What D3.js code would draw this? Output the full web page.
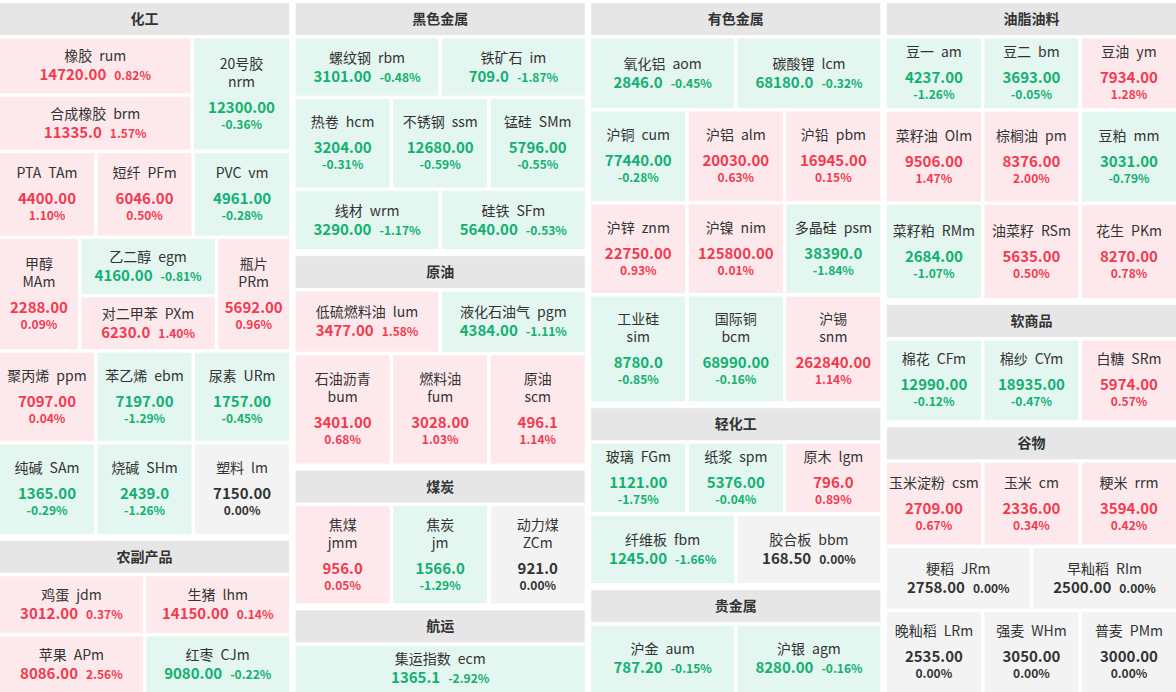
<!DOCTYPE html>
<html><head><meta charset="utf-8">
<script src="https://cdn.jsdelivr.net/npm/d3@7"></script>
<style>body{margin:0;background:#fff;font-family:"Noto Sans CJK SC","Noto Sans",sans-serif}</style>
</head><body><div id="chart"></div>
<script>
// quotes: [name, code, price, pct]
const huagong = [["橡胶","rum","14720.00",0.82],["合成橡胶","brm","11335.0",1.57],["20号胶","nrm","12300.00",-0.36],
  ["PTA","TAm","4400.00",1.10],["短纤","PFm","6046.00",0.50],["PVC","vm","4961.00",-0.28],
  ["甲醇","MAm","2288.00",0.09],["乙二醇","egm","4160.00",-0.81],["对二甲苯","PXm","6230.0",1.40],["瓶片","PRm","5692.00",0.96],
  ["聚丙烯","ppm","7097.00",0.04],["苯乙烯","ebm","7197.00",-1.29],["尿素","URm","1757.00",-0.45],
  ["纯碱","SAm","1365.00",-0.29],["烧碱","SHm","2439.0",-1.26],["塑料","lm","7150.00",0.00]];
const nongfu = [["鸡蛋","jdm","3012.00",0.37],["生猪","lhm","14150.00",0.14],["苹果","APm","8086.00",2.56],["红枣","CJm","9080.00",-0.22]];
const heise = [["螺纹钢","rbm","3101.00",-0.48],["铁矿石","im","709.0",-1.87],["热卷","hcm","3204.00",-0.31],["不锈钢","ssm","12680.00",-0.59],
  ["锰硅","SMm","5796.00",-0.55],["线材","wrm","3290.00",-1.17],["硅铁","SFm","5640.00",-0.53]];
const yuanyou = [["低硫燃料油","lum","3477.00",1.58],["液化石油气","pgm","4384.00",-1.11],["石油沥青","bum","3401.00",0.68],["燃料油","fum","3028.00",1.03],["原油","scm","496.1",1.14]];
const meitan = [["焦煤","jmm","956.0",0.05],["焦炭","jm","1566.0",-1.29],["动力煤","ZCm","921.0",0.00]];
const hangyun = [["集运指数","ecm","1365.1",-2.92]];
const youse = [["氧化铝","aom","2846.0",-0.45],["碳酸锂","lcm","68180.0",-0.32],["沪铜","cum","77440.00",-0.28],["沪铝","alm","20030.00",0.63],
  ["沪铅","pbm","16945.00",0.15],["沪锌","znm","22750.00",0.93],["沪镍","nim","125800.00",0.01],["多晶硅","psm","38390.0",-1.84],
  ["工业硅","sim","8780.0",-0.85],["国际铜","bcm","68990.00",-0.16],["沪锡","snm","262840.00",1.14]];
const qinghua = [["玻璃","FGm","1121.00",-1.75],["纸浆","spm","5376.00",-0.04],["原木","lgm","796.0",0.89],["纤维板","fbm","1245.00",-1.66],["胶合板","bbm","168.50",0.00]];
const guijinshu = [["沪金","aum","787.20",-0.15],["沪银","agm","8280.00",-0.16]];
const youzhi = [["豆一","am","4237.00",-1.26],["豆二","bm","3693.00",-0.05],["豆油","ym","7934.00",1.28],["菜籽油","OIm","9506.00",1.47],
  ["棕榈油","pm","8376.00",2.00],["豆粕","mm","3031.00",-0.79],["菜籽粕","RMm","2684.00",-1.07],["油菜籽","RSm","5635.00",0.50],["花生","PKm","8270.00",0.78]];
const ruanshang = [["棉花","CFm","12990.00",-0.12],["棉纱","CYm","18935.00",-0.47],["白糖","SRm","5974.00",0.57]];
const guwu = [["玉米淀粉","csm","2709.00",0.67],["玉米","cm","2336.00",0.34],["粳米","rrm","3594.00",0.42],["粳稻","JRm","2758.00",0.00],
  ["早籼稻","RIm","2500.00",0.00],["晚籼稻","LRm","2535.00",0.00],["强麦","WHm","3050.00",0.00],["普麦","PMm","3000.00",0.00]];

// tile weights: rows [rowWeight, cells], a cell is a weight or [weight, [stack weights]]
const columns = [
  [["化工", huagong, [[112,[[2,[57,55]],1]],[83,[1,1,1]],[111,[[77],[132,[57,54]],[70]]],[89,[1,1,1]],[90,[1,1,1]]]],
   ["农副产品", nongfu, [[57,[1,1]],[56,[1,1]]]]],
  [["黑色金属", heise, [[57,[1,1]],[88,[1,1,1]],[58,[1,1]]]],
   ["原油", yuanyou, [[60,[1,1]],[108,[1,1,1]]]],
   ["煤炭", meitan, [[97,[1,1,1]]]],
   ["航运", hangyun, [[46,[1]]]]],
  [["有色金属", youse, [[69,[1,1]],[89,[1,1,1]],[88,[1,1,1]],[104,[1,1,1]]]],
   ["轻化工", qinghua, [[68,[1,1,1]],[67,[1,1]]]],
   ["贵金属", guijinshu, [[66,[1,1]]]]],
  [["油脂油料", youzhi, [[69,[1,1,1]],[89,[1,1,1]],[92,[1,1,1]]]],
   ["软商品", ruanshang, [[79,[1,1,1]]]],
   ["谷物", guwu, [[81,[1,1,1]],[60,[1,1]],[79,[1,1,1]]]]]
];

const W = 1176, H = 692, topY = 3, headH = 32, gap = 3.5, secGap = 7;
const svg = d3.select("#chart").append("svg").attr("width", W).attr("height", H);

// split [a,b] into segments by weights with gaps
function split(a, b, weights, g) {
  const total = d3.sum(weights), avail = b - a - g * (weights.length - 1);
  const s = d3.scaleLinear().domain([0, total]).range([0, avail]);
  const cum = [0, ...d3.cumsum(weights)];
  return weights.map((w, i) => [a + s(cum[i]) + g * i, a + s(cum[i + 1]) + g * i]);
}

const colX = d3.scaleBand().domain(d3.range(4)).range([0, W]).paddingInner(0.022);
const tiles = [], heads = [];
columns.forEach((col, ci) => {
  const x0 = colX(ci), x1 = x0 + colX.bandwidth();
  const nRows = d3.sum(col, s => s[2].length);
  const avail = H - topY - col.length * (headH + gap) - (col.length - 1) * secGap - (nRows - col.length) * gap;
  const unit = avail / d3.sum(col, s => d3.sum(s[2], r => r[0]));
  let y = topY;
  col.forEach(([title, items, rows]) => {
    heads.push({title, x0, x1, y0: y, y1: y + headH});
    y += headH + gap;
    let k = 0;
    rows.forEach(([rw, cells]) => {
      const y0 = y, y1 = y + rw * unit;
      const cw = cells.map(c => Array.isArray(c) ? c[0] : c);
      split(x0, x1, cw, gap).forEach(([cx0, cx1], j) => {
        const c = cells[j];
        if (Array.isArray(c) && c[1]) {
          split(y0, y1, c[1], gap).forEach(([sy0, sy1]) => tiles.push({d: items[k++], x0: cx0, x1: cx1, y0: sy0, y1: sy1}));
        } else tiles.push({d: items[k++], x0: cx0, x1: cx1, y0, y1});
      });
      y = y1 + gap;
    });
    y += secGap - gap;
  });
});

const hg = svg.selectAll("g.head").data(heads).join("g").attr("class", "head");
hg.append("rect").attr("x", d => d.x0).attr("y", d => d.y0).attr("width", d => d.x1 - d.x0).attr("height", d => d.y1 - d.y0).attr("fill", "#e6e6e6");
hg.append("text").attr("x", d => (d.x0 + d.x1) / 2).attr("y", d => (d.y0 + d.y1) / 2 + 5)
  .attr("text-anchor", "middle").attr("font-size", 14).attr("font-weight", "bold").attr("fill", "#333").text(d => d.title);

const bg = p => p > 0 ? "#fde9eb" : p < 0 ? "#e3f6ef" : "#f3f3f3";
const fg = p => p > 0 ? "#f23a50" : p < 0 ? "#12b071" : "#333";
const tg = svg.selectAll("g.tile").data(tiles).join("g").attr("class", "tile");
tg.append("rect").attr("x", d => d.x0).attr("y", d => d.y0).attr("width", d => d.x1 - d.x0).attr("height", d => d.y1 - d.y0)
  .attr("fill", d => bg(d.d[3]));
tg.each(function(t) {
  const g = d3.select(this), [name, code, price, pct] = t.d;
  const w = t.x1 - t.x0, cx = (t.x0 + t.x1) / 2, h = t.y1 - t.y0;
  const inline = w > 120, twoLine = !inline && h >= 95;
  const nameLines = twoLine ? [name, code] : [name + "\u2002" + code];
  const ys = nameLines.map((n, i) => i * 18);
  const last = ys[ys.length - 1];
  const pY = last + (inline ? 19 : 26), qY = pY + 16;
  const span = inline ? pY : qY;
  const base = (t.y0 + t.y1) / 2 - span / 2 + 5;
  nameLines.forEach((n, i) => g.append("text").attr("x", cx).attr("y", base + ys[i]).attr("text-anchor", "middle")
    .attr("font-size", 14).attr("fill", "#333").text(n));
  const pctTxt = pct.toFixed(2) + "%";
  if (inline) {
    const tx = g.append("text").attr("x", cx).attr("y", base + pY).attr("text-anchor", "middle").attr("font-weight", "bold").attr("fill", fg(pct));
    tx.append("tspan").attr("font-size", 15).text(price);
    tx.append("tspan").attr("font-size", 12).attr("dx", 8).text(pctTxt);
  } else {
    g.append("text").attr("x", cx).attr("y", base + pY).attr("text-anchor", "middle").attr("font-weight", "bold")
      .attr("font-size", 15).attr("fill", fg(pct)).text(price);
    g.append("text").attr("x", cx).attr("y", base + qY).attr("text-anchor", "middle").attr("font-weight", "bold")
      .attr("font-size", 12).attr("fill", fg(pct)).text(pctTxt);
  }
});
</script></body></html>
